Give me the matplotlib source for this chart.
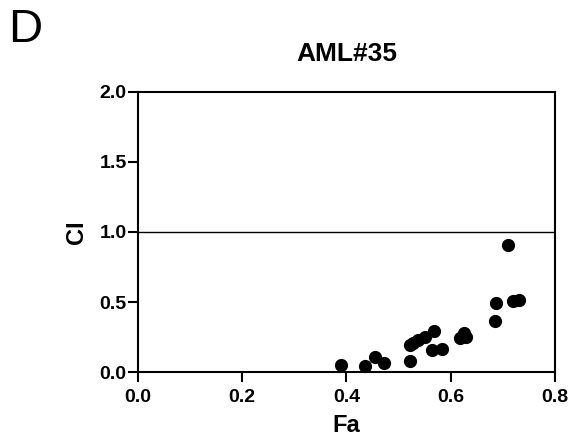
import matplotlib
matplotlib.use("Agg")
import matplotlib.pyplot as plt

plt.rcParams['font.family'] = ['Liberation Sans', 'DejaVu Sans']

# Fa / CI values
fa = [0.39, 0.435, 0.455, 0.472, 0.522, 0.522, 0.528, 0.538, 0.551, 0.569,
      0.564, 0.583, 0.618, 0.626, 0.629, 0.685, 0.687, 0.711, 0.719, 0.732]
ci = [0.05, 0.04, 0.11, 0.066, 0.079, 0.193, 0.205, 0.23, 0.25, 0.29,
      0.157, 0.162, 0.24, 0.276, 0.25, 0.366, 0.49, 0.907, 0.51, 0.514]

fig = plt.figure(figsize=(5.72, 4.4), dpi=100)
ax = fig.add_axes([0.241, 0.1545, 0.729, 0.6365])

ax.axhline(1.0, color="black", lw=1.0, zorder=1)
ax.scatter(fa, ci, s=72, color="black", zorder=3, clip_on=False)

ax.set_xlim(0, 0.8)
ax.set_ylim(0, 2.0)
ax.set_xticks([0.0, 0.2, 0.4, 0.6, 0.8])
ax.set_yticks([0.0, 0.5, 1.0, 1.5, 2.0])
ax.set_xticklabels(["0.0", "0.2", "0.4", "0.6", "0.8"], fontweight="bold", fontsize=14)
ax.set_yticklabels(["0.0", "0.5", "1.0", "1.5", "2.0"], fontweight="bold", fontsize=14)
ax.tick_params(direction="out", length=7, width=1.5)
ax.tick_params(axis="x", pad=5)
ax.tick_params(axis="y", pad=1)
for s in ax.spines.values():
    s.set_linewidth(1.5)

ax.set_xlabel("Fa", fontweight="bold", fontsize=17, labelpad=6)
ax.set_ylabel("CI", fontweight="bold", fontsize=17, labelpad=8)
ax.set_title("AML#35", fontweight="bold", fontsize=19, pad=22)
fig.text(0.014, 0.905, "D", fontsize=34)

plt.savefig("out.png", dpi=100)
